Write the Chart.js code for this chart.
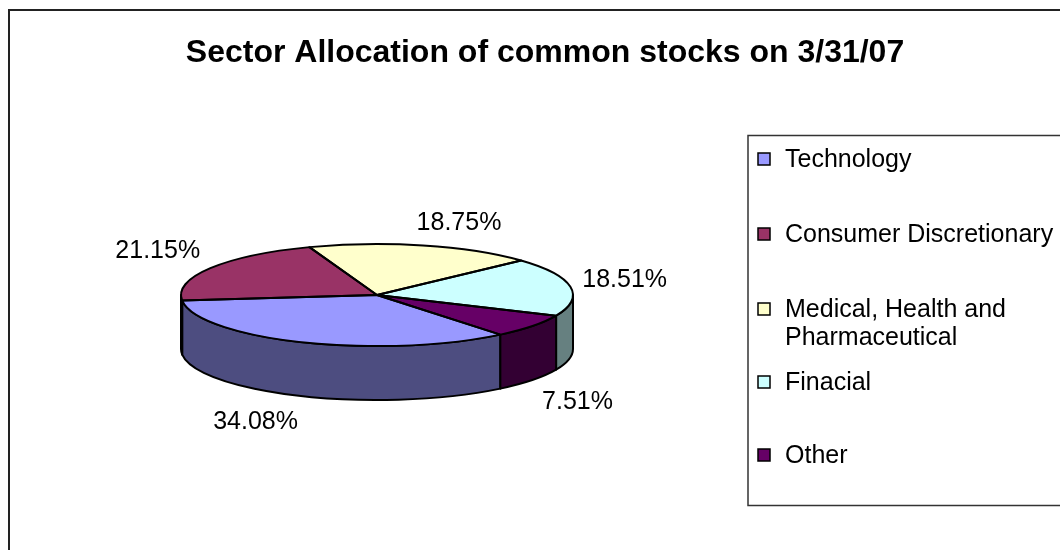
<!DOCTYPE html>
<html><head><meta charset="utf-8">
<script src="https://cdn.jsdelivr.net/npm/chart.js@4.4.1/dist/chart.umd.min.js"></script>
<style>html,body{margin:0;padding:0;background:#fff;overflow:hidden}canvas{display:block}</style>
</head><body>
<canvas id="c" width="1060" height="550"></canvas>
<script>
const chartTitle = 'Sector Allocation of common stocks on 3/31/07';
const categories = ['Technology', 'Consumer Discretionary', 'Medical, Health and Pharmaceutical', 'Finacial', 'Other'];
const shares = [34.08, 21.15, 18.75, 18.51, 7.51];
const sliceColors = ['#9999FF', '#993366', '#FFFFCC', '#CCFFFF', '#660066'];

const FONT = '"Liberation Sans", Arial, sans-serif';
const TILT = 51 / 196;   // vertical squash of the pie
const DEPTH = 54;        // pie thickness in px

function darken(hex, f) {
  const n = parseInt(hex.slice(1), 16);
  const r = Math.round(((n >> 16) & 255) * f), g = Math.round(((n >> 8) & 255) * f), b = Math.round((n & 255) * f);
  return `rgb(${r},${g},${b})`;
}

const pie3d = {
  id: 'pie3d',
  beforeDatasetsDraw(chart) {
    const ctx = chart.ctx;
    const meta = chart.getDatasetMeta(0);
    const arcs = meta.data;
    if (!arcs.length) return false;
    const cx = arcs[0].x, cy = arcs[0].y, rx = arcs[0].outerRadius, ry = rx * TILT;
    const TAU = Math.PI * 2;
    ctx.save();
    ctx.lineWidth = 2;
    ctx.strokeStyle = '#000';
    ctx.lineJoin = 'round';
    // side walls (front half only)
    arcs.forEach((el, i) => {
      const s = ((el.startAngle % TAU) + TAU) % TAU;
      const e = s + (el.endAngle - el.startAngle);
      for (const [a, b] of [[0, Math.PI], [TAU, TAU + Math.PI]]) {
        const lo = Math.max(s, a), hi = Math.min(e, b);
        if (hi - lo <= 1e-6) continue;
        ctx.beginPath();
        ctx.ellipse(cx, cy, rx, ry, 0, lo, hi, false);
        ctx.lineTo(cx + rx * Math.cos(hi), cy + DEPTH + ry * Math.sin(hi));
        ctx.ellipse(cx, cy + DEPTH, rx, ry, 0, hi, lo, true);
        ctx.closePath();
        ctx.fillStyle = darken(sliceColors[i], 0.5);
        ctx.fill();
        ctx.stroke();
      }
    });
    // top faces, drawn by the library's arc elements under a squash transform
    arcs.forEach(el => {
      ctx.save();
      ctx.translate(cx, cy);
      ctx.scale(1, TILT);
      ctx.translate(-cx, -cy);
      el.draw(ctx);
      ctx.restore();
    });
    arcs.forEach(el => {
      ctx.beginPath();
      ctx.moveTo(cx, cy);
      ctx.ellipse(cx, cy, rx, ry, 0, el.startAngle, el.endAngle, false);
      ctx.closePath();
      ctx.stroke();
    });
    // percentage labels
    ctx.font = '25px ' + FONT;
    ctx.fillStyle = '#000';
    ctx.textAlign = 'center';
    ctx.textBaseline = 'alphabetic';
    const gap = 12, h = 25;
    arcs.forEach((el, i) => {
      const txt = shares[i].toFixed(2) + '%';
      const w = ctx.measureText(txt).width;
      const m = (el.startAngle + el.endAngle) / 2;
      const c = Math.cos(m), s = Math.sin(m);
      const fx = Math.sign(c) * Math.min(1, Math.abs(c) / 0.3);
      const fy = Math.sign(s) * Math.min(1, Math.abs(s) / 0.3);
      const x = cx + rx * c + fx * w / 2 + gap * c;
      const y = cy + ry * s + (s > 0 ? DEPTH : 0) + fy * h / 2 + gap * s;
      ctx.fillText(txt, x, y + 9);
    });
    ctx.restore();
    return false;
  },
  afterDraw(chart) {
    const ctx = chart.ctx;
    ctx.save();
    // outer frame
    ctx.strokeStyle = '#222';
    ctx.lineWidth = 2;
    ctx.beginPath();
    ctx.moveTo(9, 600);
    ctx.lineTo(9, 10);
    ctx.lineTo(1100, 10);
    ctx.stroke();
    // title
    ctx.fillStyle = '#000';
    ctx.font = 'bold 32px ' + FONT;
    ctx.textAlign = 'center';
    ctx.textBaseline = 'alphabetic';
    ctx.fillText(chartTitle, 545, 62);
    // legend box
    ctx.strokeStyle = '#333';
    ctx.lineWidth = 1.5;
    ctx.strokeRect(748, 135.5, 340, 370);
    ctx.font = '25px ' + FONT;
    ctx.textAlign = 'left';
    const maxW = 272;
    const rowBase = [167, 242, 317, 390, 463];
    categories.forEach((name, i) => {
      // wrap
      const words = name.split(' ');
      const lines = [];
      let cur = '';
      words.forEach(wd => {
        const t = cur ? cur + ' ' + wd : wd;
        if (cur && ctx.measureText(t).width > maxW) { lines.push(cur); cur = wd; } else cur = t;
      });
      lines.push(cur);
      const base = rowBase[i];
      ctx.fillStyle = sliceColors[i];
      ctx.fillRect(758, base - 14, 12, 12);
      ctx.strokeStyle = '#000';
      ctx.lineWidth = 1.5;
      ctx.strokeRect(758, base - 14, 12, 12);
      ctx.fillStyle = '#000';
      lines.forEach((ln, j) => ctx.fillText(ln, 785, base + j * 28));
    });
    ctx.restore();
  }
};

new Chart(document.getElementById('c'), {
  type: 'pie',
  data: {
    labels: categories,
    datasets: [{ data: shares, backgroundColor: sliceColors, borderWidth: 0 }]
  },
  options: {
    responsive: false,
    animation: false,
    rotation: 141,
    layout: { padding: { left: 181, right: 487, top: 99, bottom: 59 } },
    plugins: { legend: { display: false }, title: { display: false }, tooltip: { enabled: false } }
  },
  plugins: [pie3d]
});
</script>
</body></html>
